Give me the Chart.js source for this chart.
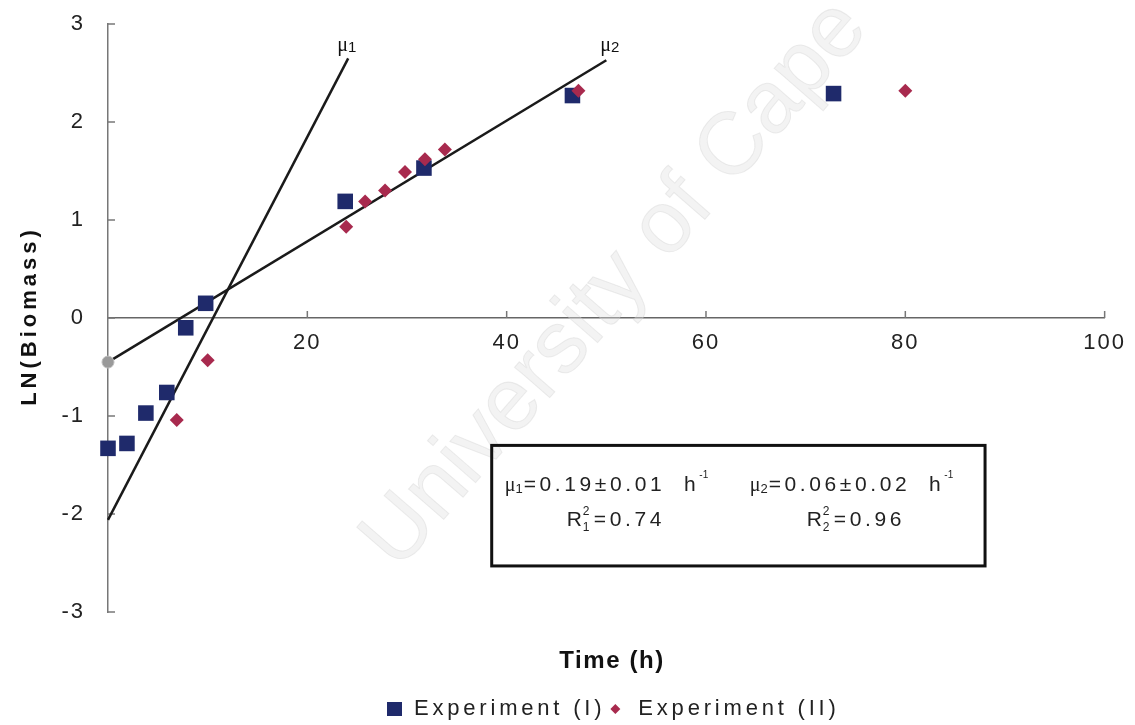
<!DOCTYPE html>
<html>
<head>
<meta charset="utf-8">
<script src="https://cdn.jsdelivr.net/npm/chart.js@4.4.1/dist/chart.umd.min.js"></script>
<style>
  html, body { margin: 0; padding: 0; background: #fff; }
  #wrap { width: 1135px; height: 725px; }
</style>
</head>
<body>
<div id="wrap"><canvas id="growthChart"></canvas></div>
<script>
// --- valores ---
const exp1Time = [0, 1.9, 3.8, 5.9, 7.8, 9.8, 23.8, 31.7, 46.6, 72.8];
const exp1LnBiomass = [-1.33, -1.28, -0.97, -0.76, -0.10, 0.15, 1.19, 1.53, 2.27, 2.29];
const exp2Time = [6.9, 10, 23.9, 25.8, 27.8, 29.8, 31.8, 33.8, 47.2, 80];
const exp2LnBiomass = [-1.04, -0.43, 0.93, 1.19, 1.30, 1.49, 1.62, 1.72, 2.32, 2.32];

// retas de ajuste (inicio / fim)
const mu1Time = [0, 24.1];
const mu1Ln = [-2.06, 2.65];
const mu2Time = [0, 50];
const mu2Ln = [-0.45, 2.63];

const xTicks = [0, 20, 40, 60, 80, 100];
const yTicks = [-3, -2, -1, 0, 1, 2, 3];
const seriesLabels = ['Experiment (I)', 'Experiment (II)'];

const toPoints = (xs, ys) => xs.map((x, i) => ({ x: x, y: ys[i] }));

const SANS = "'Liberation Sans', Arial, sans-serif";
const SERIF = "'Liberation Serif', 'Times New Roman', serif";

// desenha um texto com partes em subscrito / sobrescrito
function drawRich(ctx, x, y, parts) {
    let cx = x;
    parts.forEach(p => {
        ctx.font = p.font;
        ctx.letterSpacing = p.ls || '0px';
        ctx.fillText(p.t, cx, y + (p.dy || 0));
        cx += ctx.measureText(p.t).width + (p.gap || 0);
    });
    ctx.letterSpacing = '0px';
    return cx;
}

const extrasPlugin = {
    id: 'extras',
    beforeDraw(chart) {
        // espacamento largo como no original (rotulos dos eixos)
        chart.ctx.letterSpacing = '2px';
    },
    beforeDatasetsDraw(chart) {
        const ctx = chart.ctx;
        const xs = chart.scales.x, ys = chart.scales.y;
        const area = chart.chartArea;

        // marca d'agua
        ctx.save();
        ctx.translate(398, 572);
        ctx.rotate(-0.855);
        ctx.letterSpacing = '0px';
        ctx.font = '88px ' + SANS;
        ctx.fillStyle = 'rgba(225,225,225,0.4)';
        ctx.strokeStyle = 'rgba(205,205,205,0.35)';
        ctx.lineWidth = 1;
        ctx.fillText('University of Cape Town', 0, 0);
        ctx.strokeText('University of Cape Town', 0, 0);
        ctx.restore();

        // marcas dos eixos (para dentro)
        ctx.save();
        ctx.strokeStyle = '#777';
        ctx.lineWidth = 1.5;
        const y0 = ys.getPixelForValue(0);
        yTicks.forEach(v => {
            const py = ys.getPixelForValue(v);
            ctx.beginPath();
            ctx.moveTo(area.left, py);
            ctx.lineTo(area.left + 7, py);
            ctx.stroke();
        });
        xTicks.forEach(v => {
            if (v === 0) return;
            const px = xs.getPixelForValue(v);
            ctx.beginPath();
            ctx.moveTo(px, y0);
            ctx.lineTo(px, y0 - 7);
            ctx.stroke();
        });
        ctx.restore();
    },
    afterDraw(chart) {
        const ctx = chart.ctx;
        const xs = chart.scales.x, ys = chart.scales.y;
        const area = chart.chartArea;
        ctx.save();
        ctx.fillStyle = '#111';
        ctx.textBaseline = 'alphabetic';
        ctx.textAlign = 'left';

        // titulo do eixo y
        ctx.save();
        ctx.translate(36, (area.top + area.bottom) / 2);
        ctx.rotate(-Math.PI / 2);
        ctx.textAlign = 'center';
        ctx.font = 'bold 22px ' + SANS;
        ctx.letterSpacing = '4px';
        ctx.fillText('LN(Biomass)', 2, 0);
        ctx.restore();

        // rotulos mu1 / mu2 no fim das retas
        const m1x = xs.getPixelForValue(mu1Time[1]);
        const m1y = ys.getPixelForValue(mu1Ln[1]);
        drawRich(ctx, m1x - 11, m1y - 7, [
            { t: '\u03bc', font: '20px ' + SERIF },
            { t: '1', font: '15px ' + SANS, dy: 1 }
        ]);
        const m2x = xs.getPixelForValue(mu2Time[1]);
        const m2y = ys.getPixelForValue(mu2Ln[1]);
        drawRich(ctx, m2x - 6, m2y - 9, [
            { t: '\u03bc', font: '20px ' + SERIF },
            { t: '2', font: '15px ' + SANS, dy: 1 }
        ]);

        // caixa com os parametros
        const bx1 = xs.getPixelForValue(38.5), by1 = ys.getPixelForValue(-1.30);
        const bx2 = xs.getPixelForValue(88.0), by2 = ys.getPixelForValue(-2.53);
        ctx.strokeStyle = '#111';
        ctx.lineWidth = 3;
        ctx.strokeRect(bx1, by1, bx2 - bx1, by2 - by1);

        ctx.fillStyle = '#222';
        const f = '21px ' + SANS, fs = '10px ' + SANS, ls = '3.6px';
        const l1 = by1 + 46, l2 = by1 + 81;
        drawRich(ctx, bx1 + 13, l1, [
            { t: '\u03bc', font: '20px ' + SERIF },
            { t: '1', font: '13px ' + SANS, dy: 2, gap: 1 },
            { t: '=0.19\u00b10.01  h', font: f, ls: ls },
            { t: '-1', font: fs, dy: -13 }
        ]);
        drawRich(ctx, bx1 + 258, l1, [
            { t: '\u03bc', font: '20px ' + SERIF },
            { t: '2', font: '13px ' + SANS, dy: 2, gap: 1 },
            { t: '=0.06\u00b10.02  h', font: f, ls: ls },
            { t: '-1', font: fs, dy: -13 }
        ]);
        let cx = drawRich(ctx, bx1 + 75, l2, [{ t: 'R', font: f }]);
        ctx.font = '12px ' + SANS;
        ctx.fillText('2', cx + 1, l2 - 11);
        ctx.fillText('1', cx + 1, l2 + 5);
        drawRich(ctx, cx + 12, l2, [{ t: '=0.74', font: f, ls: ls }]);
        cx = drawRich(ctx, bx1 + 315, l2, [{ t: 'R', font: f }]);
        ctx.font = '12px ' + SANS;
        ctx.fillText('2', cx + 1, l2 - 11);
        ctx.fillText('2', cx + 1, l2 + 5);
        drawRich(ctx, cx + 12, l2, [{ t: '=0.96', font: f, ls: ls }]);

        // titulo do eixo x
        ctx.fillStyle = '#111';
        ctx.font = 'bold 24px ' + SANS;
        ctx.letterSpacing = '1.6px';
        ctx.textAlign = 'center';
        ctx.fillText('Time (h)', area.left + 504, area.bottom + 56);

        // legenda
        ctx.textAlign = 'left';
        ctx.textBaseline = 'middle';
        const ly = area.bottom + 97;
        let lx = area.left + 279;
        const ds = chart.data.datasets;
        ctx.fillStyle = ds[0].backgroundColor;
        ctx.fillRect(lx, ly - 7, 15, 14);
        lx += 27;
        ctx.fillStyle = '#222';
        ctx.font = '22px ' + SANS;
        ctx.letterSpacing = '3.8px';
        ctx.fillText(seriesLabels[0], lx, ly);
        lx += ctx.measureText(seriesLabels[0]).width + 10;
        ctx.fillStyle = ds[1].backgroundColor;
        ctx.beginPath();
        ctx.moveTo(lx, ly - 5);
        ctx.lineTo(lx + 5, ly);
        ctx.lineTo(lx, ly + 5);
        ctx.lineTo(lx - 5, ly);
        ctx.closePath();
        ctx.fill();
        lx += 23;
        ctx.fillStyle = '#222';
        ctx.fillText(seriesLabels[1], lx, ly);
        ctx.letterSpacing = '0px';
        ctx.restore();
    }
};

new Chart(document.getElementById('growthChart'), {
    type: 'scatter',
    data: {
        datasets: [
            {
                label: seriesLabels[0],
                data: toPoints(exp1Time, exp1LnBiomass),
                pointStyle: 'rect',
                pointRadius: 11,
                backgroundColor: '#1f2a6b',
                borderColor: '#1f2a6b',
                borderWidth: 0,
                clip: false,
                order: 1
            },
            {
                label: seriesLabels[1],
                data: toPoints(exp2Time, exp2LnBiomass),
                pointStyle: 'rectRot',
                pointRadius: 7,
                backgroundColor: '#a82a4e',
                borderColor: '#a82a4e',
                borderWidth: 0,
                clip: false,
                order: 0
            },
            {
                type: 'line',
                label: 'mu1',
                data: toPoints(mu1Time, mu1Ln),
                borderColor: '#1a1a1a',
                borderWidth: 2.5,
                pointRadius: 0,
                clip: false,
                order: 2
            },
            {
                type: 'line',
                label: 'mu2',
                data: toPoints(mu2Time, mu2Ln),
                borderColor: '#1a1a1a',
                borderWidth: 2.5,
                pointRadius: [6, 0],
                pointBackgroundColor: '#9a9a9a',
                pointBorderColor: '#bdbdbd',
                pointBorderWidth: 1,
                clip: false,
                order: 2
            }
        ]
    },
    options: {
        responsive: true,
        maintainAspectRatio: false,
        animation: false,
        layout: { padding: { top: 24, right: 27, bottom: 113, left: 0 } },
        plugins: {
            legend: { display: false },
            tooltip: { enabled: false }
        },
        scales: {
            x: {
                type: 'linear',
                position: { y: 0 },
                min: 0,
                max: 100,
                afterBuildTicks: s => { s.ticks = xTicks.map(v => ({ value: v })); },
                afterFit: s => { s.height = 0; },
                grid: { display: false, drawTicks: false },
                border: { display: true, color: '#666', width: 1.5 },
                ticks: {
                    padding: 12,
                    color: '#222',
                    font: { family: SANS, size: 22 },
                    callback: v => (v === 0 ? '' : v)
                }
            },
            y: {
                type: 'linear',
                min: -3,
                max: 3,
                afterBuildTicks: s => { s.ticks = yTicks.map(v => ({ value: v })); },
                afterFit: s => {
                    s.width = 108;
                    s.paddingTop = 12;
                    s.paddingBottom = 12;
                },
                grid: { display: false, drawTicks: false },
                border: { display: true, color: '#777', width: 1.5 },
                ticks: {
                    padding: 23,
                    color: '#222',
                    font: { family: SANS, size: 22 }
                }
            }
        }
    },
    plugins: [extrasPlugin]
});
</script>
</body>
</html>
